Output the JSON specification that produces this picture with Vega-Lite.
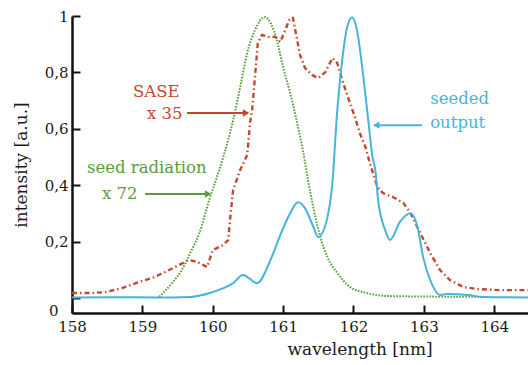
{
  "$schema": "https://vega.github.io/schema/vega-lite/v6.json",
  "width": 456,
  "height": 297,
  "autosize": {"type": "none"},
  "padding": {"left": 72, "top": 16, "right": 0, "bottom": 52},
  "background": "white",
  "config": {
    "view": {"stroke": null},
    "font": "DejaVu Serif"
  },
  "datasets": {
    "seed": [
      {"wavelength": 159.24, "intensity": 0.004},
      {"wavelength": 159.42, "intensity": 0.053},
      {"wavelength": 159.56, "intensity": 0.099},
      {"wavelength": 159.68, "intensity": 0.160},
      {"wavelength": 159.81, "intensity": 0.230},
      {"wavelength": 159.95, "intensity": 0.348},
      {"wavelength": 160.06, "intensity": 0.429},
      {"wavelength": 160.15, "intensity": 0.500},
      {"wavelength": 160.29, "intensity": 0.631},
      {"wavelength": 160.39, "intensity": 0.748},
      {"wavelength": 160.49, "intensity": 0.869},
      {"wavelength": 160.60, "intensity": 0.950},
      {"wavelength": 160.74, "intensity": 0.996},
      {"wavelength": 160.91, "intensity": 0.915},
      {"wavelength": 161.00, "intensity": 0.819},
      {"wavelength": 161.10, "intensity": 0.727},
      {"wavelength": 161.20, "intensity": 0.621},
      {"wavelength": 161.28, "intensity": 0.525},
      {"wavelength": 161.38, "intensity": 0.383},
      {"wavelength": 161.53, "intensity": 0.216},
      {"wavelength": 161.63, "intensity": 0.145},
      {"wavelength": 161.77, "intensity": 0.089},
      {"wavelength": 161.95, "intensity": 0.039},
      {"wavelength": 162.19, "intensity": 0.018},
      {"wavelength": 162.48, "intensity": 0.007},
      {"wavelength": 163.90, "intensity": 0.004}
    ],
    "sase": [
      {"wavelength": 158.00, "intensity": 0.018},
      {"wavelength": 158.28, "intensity": 0.018},
      {"wavelength": 158.47, "intensity": 0.021},
      {"wavelength": 158.71, "intensity": 0.035},
      {"wavelength": 158.95, "intensity": 0.057},
      {"wavelength": 159.14, "intensity": 0.071},
      {"wavelength": 159.32, "intensity": 0.092},
      {"wavelength": 159.52, "intensity": 0.117},
      {"wavelength": 159.66, "intensity": 0.135},
      {"wavelength": 159.78, "intensity": 0.128},
      {"wavelength": 159.92, "intensity": 0.110},
      {"wavelength": 160.00, "intensity": 0.170},
      {"wavelength": 160.15, "intensity": 0.188},
      {"wavelength": 160.22, "intensity": 0.206},
      {"wavelength": 160.25, "intensity": 0.287},
      {"wavelength": 160.29, "intensity": 0.383},
      {"wavelength": 160.39, "intensity": 0.454},
      {"wavelength": 160.49, "intensity": 0.507},
      {"wavelength": 160.53, "intensity": 0.621},
      {"wavelength": 160.56, "intensity": 0.667},
      {"wavelength": 160.60, "intensity": 0.784},
      {"wavelength": 160.64, "intensity": 0.904},
      {"wavelength": 160.70, "intensity": 0.933},
      {"wavelength": 160.79, "intensity": 0.926},
      {"wavelength": 160.89, "intensity": 0.926},
      {"wavelength": 160.96, "intensity": 0.908},
      {"wavelength": 161.03, "intensity": 0.950},
      {"wavelength": 161.10, "intensity": 0.993},
      {"wavelength": 161.14, "intensity": 0.993},
      {"wavelength": 161.20, "intensity": 0.915},
      {"wavelength": 161.24, "intensity": 0.862},
      {"wavelength": 161.31, "intensity": 0.816},
      {"wavelength": 161.41, "intensity": 0.791},
      {"wavelength": 161.50, "intensity": 0.780},
      {"wavelength": 161.60, "intensity": 0.801},
      {"wavelength": 161.70, "intensity": 0.851},
      {"wavelength": 161.77, "intensity": 0.833},
      {"wavelength": 161.84, "intensity": 0.773},
      {"wavelength": 161.92, "intensity": 0.713},
      {"wavelength": 162.02, "intensity": 0.642},
      {"wavelength": 162.09, "intensity": 0.585},
      {"wavelength": 162.17, "intensity": 0.535},
      {"wavelength": 162.24, "intensity": 0.472},
      {"wavelength": 162.34, "intensity": 0.394},
      {"wavelength": 162.42, "intensity": 0.372},
      {"wavelength": 162.56, "intensity": 0.358},
      {"wavelength": 162.71, "intensity": 0.337},
      {"wavelength": 162.81, "intensity": 0.301},
      {"wavelength": 162.95, "intensity": 0.230},
      {"wavelength": 163.09, "intensity": 0.160},
      {"wavelength": 163.23, "intensity": 0.099},
      {"wavelength": 163.37, "intensity": 0.064},
      {"wavelength": 163.56, "intensity": 0.039},
      {"wavelength": 163.76, "intensity": 0.032},
      {"wavelength": 164.09, "intensity": 0.028},
      {"wavelength": 164.48, "intensity": 0.028}
    ],
    "seeded": [
      {"wavelength": 158.00, "intensity": 0.002},
      {"wavelength": 158.60, "intensity": 0.003},
      {"wavelength": 159.20, "intensity": 0.002},
      {"wavelength": 159.68, "intensity": 0.004},
      {"wavelength": 159.96, "intensity": 0.018},
      {"wavelength": 160.15, "intensity": 0.035},
      {"wavelength": 160.29, "intensity": 0.053},
      {"wavelength": 160.43, "intensity": 0.082},
      {"wavelength": 160.63, "intensity": 0.053},
      {"wavelength": 160.82, "intensity": 0.135},
      {"wavelength": 160.96, "intensity": 0.223},
      {"wavelength": 161.10, "intensity": 0.301},
      {"wavelength": 161.21, "intensity": 0.340},
      {"wavelength": 161.31, "intensity": 0.319},
      {"wavelength": 161.43, "intensity": 0.252},
      {"wavelength": 161.50, "intensity": 0.216},
      {"wavelength": 161.63, "intensity": 0.287},
      {"wavelength": 161.70, "intensity": 0.408},
      {"wavelength": 161.77, "intensity": 0.667},
      {"wavelength": 161.84, "intensity": 0.844},
      {"wavelength": 161.91, "intensity": 0.961},
      {"wavelength": 161.98, "intensity": 0.996},
      {"wavelength": 162.05, "intensity": 0.950},
      {"wavelength": 162.14, "intensity": 0.784},
      {"wavelength": 162.21, "intensity": 0.631},
      {"wavelength": 162.27, "intensity": 0.500},
      {"wavelength": 162.31, "intensity": 0.454},
      {"wavelength": 162.35, "intensity": 0.348},
      {"wavelength": 162.45, "intensity": 0.241},
      {"wavelength": 162.52, "intensity": 0.206},
      {"wavelength": 162.66, "intensity": 0.270},
      {"wavelength": 162.81, "intensity": 0.301},
      {"wavelength": 162.91, "intensity": 0.252},
      {"wavelength": 162.99, "intensity": 0.145},
      {"wavelength": 163.09, "intensity": 0.064},
      {"wavelength": 163.23, "intensity": 0.011},
      {"wavelength": 163.33, "intensity": 0.014},
      {"wavelength": 163.62, "intensity": 0.011},
      {"wavelength": 163.84, "intensity": 0.004},
      {"wavelength": 164.48, "intensity": 0.002}
    ],
    "labels": [
      {"text": "SASE", "wavelength": 158.867, "intensity": 0.732, "series": "sase"},
      {"text": "x 35", "wavelength": 159.066, "intensity": 0.654, "series": "sase"},
      {"text": "seed radiation", "wavelength": 158.213, "intensity": 0.461, "series": "seed"},
      {"text": "x 72", "wavelength": 158.427, "intensity": 0.369, "series": "seed"},
      {"text": "seeded", "wavelength": 163.09, "intensity": 0.706, "series": "seeded"},
      {"text": "output", "wavelength": 163.09, "intensity": 0.622, "series": "seeded"}
    ],
    "arrows": [
      {"series": "sase", "from": 159.635, "to": 160.446, "tip": 160.474, "intensity": 0.656, "dir": "right"},
      {"series": "seed", "from": 159.04, "to": 159.905, "tip": 159.934, "intensity": 0.369, "dir": "right"},
      {"series": "seeded", "from": 162.976, "to": 162.365, "tip": 162.322, "intensity": 0.613, "dir": "left"}
    ]
  },
  "layer": [
    {
      "data": {"name": "seed"},
      "mark": {"type": "line", "color": "#55a03a", "strokeWidth": 2, "strokeDash": [1.6, 1.4], "interpolate": "monotone"},
      "encoding": {
        "x": {
          "field": "wavelength", "type": "quantitative",
          "scale": {"domain": [158, 164.48], "nice": false, "zero": false},
          "axis": {
            "title": "wavelength [nm]",
            "values": [158, 159, 160, 161, 162, 163, 164],
            "format": "d",
            "grid": false,
            "labelFlush": false,
            "labelFont": "DejaVu Serif",
            "labelFontSize": 15,
            "labelColor": "#1a1a1a",
            "labelPadding": 14,
            "tickSize": -8,
            "tickWidth": 2,
            "tickColor": "#111",
            "domainWidth": 2.5,
            "domainColor": "#111",
            "titleFont": "DejaVu Serif",
            "titleFontSize": 17,
            "titleFontWeight": "normal",
            "titleColor": "#1a1a1a",
            "titlePadding": 7,
            "titleX": 215,
            "titleAnchor": "start"
          }
        },
        "y": {
          "field": "intensity", "type": "quantitative",
          "scale": {"domain": [-0.053, 1], "nice": false, "zero": false},
          "axis": {
            "title": "intensity [a.u.]",
            "values": [0, 0.2, 0.4, 0.6, 0.8, 1],
            "labelExpr": "datum.value == 0 ? '0' : datum.value == 1 ? '1' : replace(format(datum.value, '.1f'), '.', ',')",
            "grid": false,
            "labelFlush": false,
            "labelOverlap": false,
            "labelFont": "DejaVu Serif",
            "labelFontSize": 15,
            "labelColor": "#1a1a1a",
            "labelPadding": {"condition": {"test": "datum.value == 0", "value": 22}, "value": 12},
            "labelOffset": {"condition": {"test": "datum.value == 0", "value": 12}, "value": 0},
            "tickSize": -8,
            "tickWidth": 2,
            "tickColor": "#111",
            "domainWidth": 2.5,
            "domainColor": "#111",
            "titleFont": "DejaVu Serif",
            "titleFontSize": 17,
            "titleFontWeight": "normal",
            "titleColor": "#1a1a1a",
            "titlePadding": 14
          }
        }
      }
    },
    {
      "data": {"name": "sase"},
      "mark": {"type": "line", "color": "#c4472d", "strokeWidth": 2.4, "strokeDash": [5, 3, 1.5, 3]},
      "encoding": {
        "x": {"field": "wavelength", "type": "quantitative"},
        "y": {"field": "intensity", "type": "quantitative"}
      }
    },
    {
      "data": {"name": "seeded"},
      "mark": {"type": "line", "color": "#45b4dc", "strokeWidth": 2, "interpolate": "monotone"},
      "encoding": {
        "x": {"field": "wavelength", "type": "quantitative"},
        "y": {"field": "intensity", "type": "quantitative"}
      }
    },
    {
      "mark": {"type": "rule", "color": "#222", "strokeWidth": 3},
      "encoding": {"y": {"datum": 1}}
    },
    {
      "data": {"name": "labels"},
      "mark": {"type": "text", "align": "left", "baseline": "middle", "font": "DejaVu Serif", "fontSize": 16.5},
      "encoding": {
        "x": {"field": "wavelength", "type": "quantitative"},
        "y": {"field": "intensity", "type": "quantitative"},
        "text": {"field": "text"},
        "color": {
          "field": "series", "type": "nominal", "legend": null,
          "scale": {"domain": ["sase", "seed", "seeded"], "range": ["#c4472d", "#5a9c3c", "#45b4dc"]}
        }
      }
    },
    {
      "data": {"name": "arrows"},
      "mark": {"type": "rule", "strokeWidth": 2},
      "encoding": {
        "x": {"field": "from", "type": "quantitative"},
        "x2": {"field": "to"},
        "y": {"field": "intensity", "type": "quantitative"},
        "color": {"field": "series", "type": "nominal", "legend": null}
      }
    },
    {
      "data": {"name": "arrows"},
      "mark": {"type": "point", "filled": true, "opacity": 1, "size": 55},
      "encoding": {
        "x": {"field": "tip", "type": "quantitative"},
        "y": {"field": "intensity", "type": "quantitative"},
        "color": {"field": "series", "type": "nominal", "legend": null},
        "shape": {
          "field": "dir", "type": "nominal", "legend": null,
          "scale": {"domain": ["right", "left"], "range": ["triangle-right", "triangle-left"]}
        }
      }
    }
  ]
}
